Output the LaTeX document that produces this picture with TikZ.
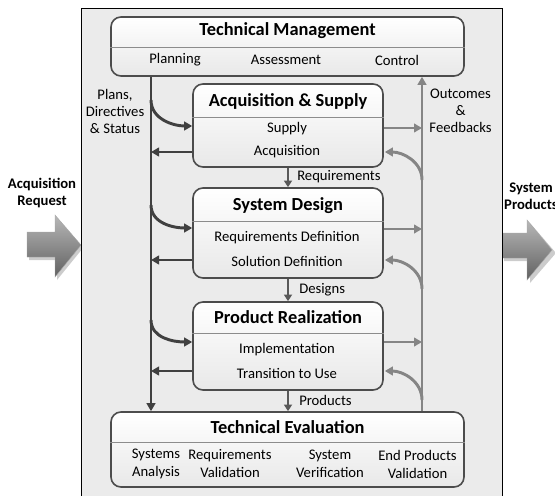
\documentclass[tikz,border=0pt]{standalone}
\usepackage{fontspec}
\setmainfont{Carlito}
\usetikzlibrary{arrows.meta}
\tikzset{
  panel/.style={draw=black, line width=0.75pt, fill=black!8},
  procbox/.style={draw=black!70, line width=1.2pt, rounded corners=7.5pt,
    top color=white, bottom color=black!9, inner sep=0pt},
  divline/.style={draw=black!45, line width=0.6pt},
  ttl/.style={font=\fontsize{13.8}{16}\selectfont\bfseries, inner sep=0pt},
  txt/.style={font=\fontsize{11}{13.5}\selectfont, inner sep=0pt, align=center},
  lbl/.style={font=\fontsize{11}{12.75}\selectfont, inner sep=0pt, align=center},
  iolbl/.style={font=\fontsize{11}{12.75}\selectfont\bfseries, inner sep=0pt, align=center},
  darkarrow/.style={draw=black!75, line width=2.2pt, -{Triangle[length=6pt,width=6.5pt]}},
  grayarrow/.style={draw=black!48, line width=2.2pt, -{Triangle[length=6pt,width=6.5pt]}},
  flowarrow/.style={draw=black!65, line width=2.2pt, -{Triangle[length=5pt,width=6pt]}},
  blockarrow/.style={draw=black!35, line width=0.3pt, top color=black!28, bottom color=black!62},
}
\begin{document}
\begin{tikzpicture}[x=0.75pt,y=-0.75pt]
\useasboundingbox (0,0) rectangle (555,495);

% big input / output arrows (drawn first, panel overlaps)
\fill[black!20] (29,235) -- (57,235) -- (57,218) -- (83,248) -- (57,280) -- (57,260) -- (29,260) -- cycle;
\path[blockarrow] (27,232) -- (55,232) -- (55,215) -- (81,245) -- (55,277) -- (55,257) -- (27,257) -- cycle;
\fill[black!20] (504,236) -- (530,236) -- (530,223) -- (556,253) -- (530,283) -- (530,261) -- (504,261) -- cycle;
\path[blockarrow] (502,233) -- (527,233) -- (527,220) -- (552,250) -- (527,280) -- (527,258) -- (502,258) -- cycle;

\node[iolbl] (inlbl) at (42,193) {Acquisition\\Request};
\node[iolbl] (outlbl) at (531,196) {System\\Products};

% panel
\path[panel] (81,9) rectangle (502,500);

% boxes
\node[procbox, minimum width=264.75pt, minimum height=44.25pt] (tm) at (287.5,46.5) {};
\node[procbox, minimum width=142.5pt, minimum height=62.25pt] (acq) at (288,125.5) {};
\node[procbox, minimum width=142.5pt, minimum height=67.5pt] (sd) at (288,233) {};
\node[procbox, minimum width=142.5pt, minimum height=66pt] (pr) at (288,346) {};
\node[procbox, minimum width=264.75pt, minimum height=56.25pt] (te) at (287.5,449.5) {};

% dividers
\draw[divline] (tm.west |- 0,47) -- (tm.east |- 0,47);
\draw[divline] (acq.west |- 0,117) -- (acq.east |- 0,117);
\draw[divline] (sd.west |- 0,221) -- (sd.east |- 0,221);
\draw[divline] (pr.west |- 0,333) -- (pr.east |- 0,333);
\draw[divline] (te.west |- 0,442) -- (te.east |- 0,442);

% titles
\node[ttl] (tmT) at (287.5,31) {Technical Management};
\node[ttl] (acqT) at (288,101) {Acquisition \& Supply};
\node[ttl] (sdT) at (288,206) {System Design};
\node[ttl] (prT) at (288,317) {Product Realization};
\node[ttl] (teT) at (287.5,427) {Technical Evaluation};

% sub texts
\node[txt] (tm1) at (175,60) {Planning};
\node[txt] (tm2) at (286,60) {Assessment};
\node[txt] (tm3) at (397,60) {Control};
\node[txt] (acq1) at (287,129) {Supply};
\node[txt] (acq2) at (287,152) {Acquisition};
\node[txt] (sd1) at (287,238) {Requirements Definition};
\node[txt] (sd2) at (287,261) {Solution Definition};
\node[txt] (pr1) at (287,350) {Implementation};
\node[txt] (pr2) at (287,373) {Transition to Use};
\node[txt] (te1) at (156,464) {Systems\\Analysis};
\node[txt] (te2) at (230,464) {Requirements\\Validation};
\node[txt] (te3) at (330,464) {System\\Verification};
\node[txt] (te4) at (417.5,464) {End Products\\Validation};

% side labels
\node[lbl] (plans) at (115,111.5) {Plans,\\Directives\\\& Status};
\node[lbl] (outc) at (460.5,110.5) {Outcomes\\\&\\Feedbacks};

% flow labels
\node[lbl, anchor=west] (reqL) at (297,177) {Requirements};
\node[lbl, anchor=west] (desL) at (299,290) {Designs};
\node[lbl, anchor=west] (proL) at (299,400) {Products};

% coordinates on the vertical lines
\coordinate (dA) at (151,100);
\coordinate (dS) at (151,205);
\coordinate (dP) at (151,320);
\coordinate (dLa) at (151,152);
\coordinate (dLs) at (151,260);
\coordinate (dLp) at (151,371);
\coordinate (gA) at (422,128);
\coordinate (gS) at (422,229);
\coordinate (gP) at (422,342);
\coordinate (gcA) at (422,180);
\coordinate (gcS) at (422,289);
\coordinate (gcP) at (422,400);

% dark control line
\draw[darkarrow] (tm.south -| dA) -- (te.north -| dA);
\draw[darkarrow] (dA) to[out=-90,in=180] (acq.west |- 0,126);
\draw[darkarrow] (dS) to[out=-90,in=180] (sd.west |- 0,228);
\draw[darkarrow] (dP) to[out=-90,in=180] (pr.west |- 0,342);
\draw[darkarrow] (acq.west |- dLa) -- (dLa);
\draw[darkarrow] (sd.west |- dLs) -- (dLs);
\draw[darkarrow] (pr.west |- dLp) -- (dLp);

% gray feedback line
\draw[grayarrow] (te.north -| gA) -- (tm.south -| gA);
\draw[grayarrow] (acq.east |- gA) -- (gA);
\draw[grayarrow] (sd.east |- gS) -- (gS);
\draw[grayarrow] (pr.east |- gP) -- (gP);
\draw[grayarrow] (gcA) to[out=90,in=0] ([xshift=0.75pt]acq.east |- 0,152);
\draw[grayarrow] (gcS) to[out=90,in=0] ([xshift=0.75pt]sd.east |- 0,260);
\draw[grayarrow] (gcP) to[out=90,in=0] ([xshift=0.75pt]pr.east |- 0,371);

% flow between boxes
\draw[flowarrow] (acq.south) -- (sd.north);
\draw[flowarrow] (sd.south) -- (pr.north);
\draw[flowarrow] (pr.south) -- (te.north -| pr.south);
\end{tikzpicture}
\end{document}
